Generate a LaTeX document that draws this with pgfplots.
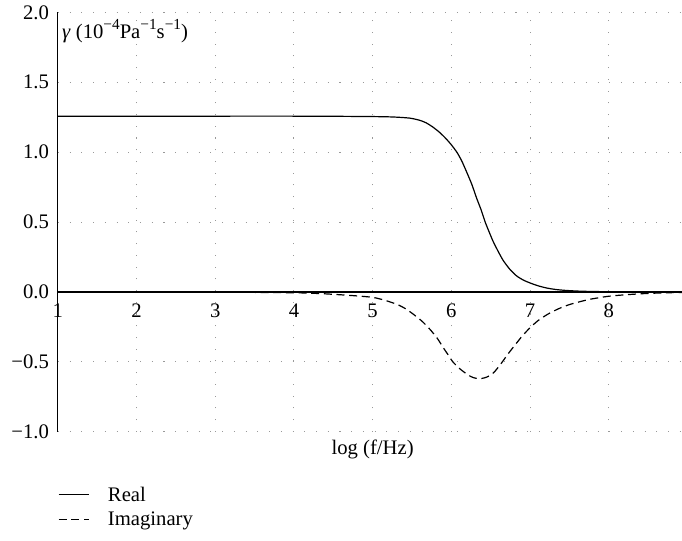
\documentclass[border=0pt]{standalone}
\usepackage{fontspec}
\setmainfont{Liberation Serif}
\usepackage{pgfplots}
\pgfplotsset{compat=1.18}
\usepackage{pgfplotstable}

\newcommand{\supx}[1]{\raisebox{0.42em}{\fontsize{11.5}{12}\selectfont #1}}

\pgfplotstableread{
x y
1 1.258
3 1.258
4 1.258
4.5 1.257
5 1.255
5.26 1.252
5.47 1.244
5.6 1.228
5.68 1.21
5.76 1.182
5.85 1.142
5.93 1.098
6.0 1.053
6.07 1.0
6.13 0.94
6.19 0.864
6.26 0.77
6.32 0.673
6.38 0.585
6.43 0.5
6.48 0.43
6.53 0.363
6.6 0.285
6.66 0.225
6.74 0.165
6.83 0.115
6.92 0.084
7.0 0.065
7.1 0.045
7.21 0.029
7.33 0.018
7.47 0.011
7.65 0.006
7.9 0.003
8.3 0.001
9 0
}\realdata

\pgfplotstableread{
x y
1 0
3 -0.001
4 -0.005
4.37 -0.012
4.76 -0.026
5.0 -0.038
5.15 -0.058
5.31 -0.088
5.42 -0.12
5.52 -0.16
5.63 -0.21
5.73 -0.268
5.82 -0.33
5.9 -0.40
5.96 -0.45
6.02 -0.50
6.1 -0.545
6.16 -0.572
6.22 -0.596
6.28 -0.612
6.35 -0.62
6.42 -0.614
6.48 -0.60
6.54 -0.575
6.6 -0.535
6.66 -0.49
6.71 -0.45
6.8 -0.385
6.9 -0.315
7.0 -0.255
7.1 -0.205
7.22 -0.16
7.36 -0.12
7.51 -0.088
7.75 -0.053
8.0 -0.03
8.25 -0.018
8.49 -0.01
8.75 -0.005
9 -0.002
}\imagdata

\begin{document}
\begin{tikzpicture}[font=\fontsize{15.5}{18}\selectfont]
\useasboundingbox (-43.4pt,-81.1pt) rectangle (468.1pt,323.9pt);
\begin{axis}[
  scale only axis,
  width=472.2pt, height=314.6pt,
  xmin=1, xmax=9, ymin=-1, ymax=2,
  axis x line*=middle, axis y line*=left,
  hide obscured x ticks=false,
  hide obscured y ticks=false,
  axis line style={line width=0.9pt, black},
  xtick={1,2,3,4,5,6,7,8,9},
  xticklabels={1,2,3,4,5,6,7,8,9},
  ytick={-1,-0.5,0,0.5,1,1.5,2},
  yticklabels={−1.0,−0.5,0.0,0.5,1.0,1.5,2.0},
  major tick length=0pt,
  xticklabel style={anchor=north, inner sep=0pt, yshift=-8.5pt},
  yticklabel style={anchor=east, inner sep=0pt, xshift=-6.5pt},
  grid=major,
  major grid style={gray!80, line width=0.8pt, dash pattern=on 0.8pt off 8pt},
  xlabel={log (f/Hz)},
  ylabel={\textit{γ} (10\supx{−4}Pa\supx{−1}s\supx{−1})},
  every axis x label/.style={at={(rel axis cs:0.5,0)}, anchor=north, inner sep=0pt, yshift=-5.5pt},
  every axis y label/.style={at={(rel axis cs:0,1)}, anchor=north west, inner sep=0pt, xshift=3pt, yshift=-5pt},
  legend style={draw=none, fill=none, at={(0,-0.13)}, anchor=north west,
    inner sep=0pt, row sep=6.5pt, column sep=14pt,
    nodes={inner sep=0pt, anchor=west}},
  legend cell align=left,
  legend image code/.code={\draw[#1] (0pt,0pt) -- (22.5pt,0pt);},
]
\addplot[black, line width=0.9pt, smooth, tension=0.4] table[x=x,y=y]{\realdata};
\addlegendentry{Real}
\addplot[black, line width=0.9pt, smooth, tension=0.4, dash pattern=on 6pt off 3.5pt] table[x=x,y=y]{\imagdata};
\addlegendentry{Imaginary}
\end{axis}
\end{tikzpicture}
\end{document}
